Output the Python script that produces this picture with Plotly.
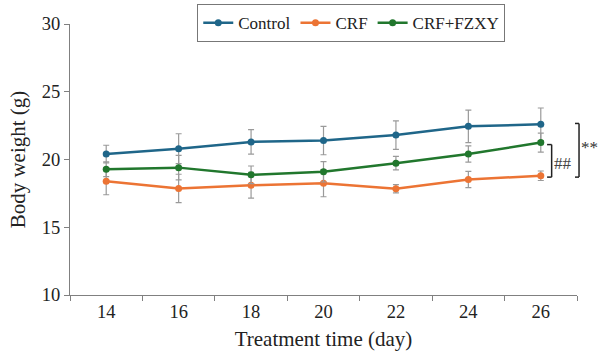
import plotly.graph_objects as go

days = ["14", "16", "18", "20", "22", "24", "26"]
control = [20.4, 20.8, 21.3, 21.4, 21.8, 22.45, 22.6]
control_err = [0.65, 1.1, 0.9, 1.05, 1.05, 1.2, 1.2]
crf = [18.4, 17.86, 18.1, 18.25, 17.84, 18.52, 18.8]
crf_err = [1.0, 1.05, 0.95, 1.0, 0.3, 0.6, 0.35]
fzxy = [19.28, 19.4, 18.87, 19.09, 19.73, 20.4, 21.25]
fzxy_err = [0.55, 0.9, 0.65, 0.75, 0.5, 0.6, 0.7]

names = ["Control", "CRF", "CRF+FZXY"]
colors = ["#1f6689", "#ec7434", "#21772d"]
series = [(control, control_err), (crf, crf_err), (fzxy, fzxy_err)]

FONT = "Liberation Serif"

fig = go.Figure()
for name, col, (vals, errs) in zip(names, colors, series):
    fig.add_trace(go.Scatter(
        x=days, y=vals, name=name, mode="lines+markers",
        line=dict(color=col, width=2.5),
        marker=dict(color=col, size=7),
        error_y=dict(type="data", array=errs, visible=True,
                     color="#9a9a9a", thickness=1.2, width=3),
        cliponaxis=False,
    ))

axis_common = dict(showline=True, linecolor="#808080", linewidth=1.2,
                   ticks="outside", tickcolor="#808080", ticklen=5,
                   showgrid=False, zeroline=False, automargin=False,
                   tickfont=dict(family=FONT, size=18.5, color="#222"))

fig.update_xaxes(type="category", range=[-0.5, 6.5], tickson="boundaries",
                 title=dict(text="Treatment time (day)", font=dict(family=FONT, size=21, color="#222"),
                            standoff=10),
                 **axis_common)
fig.update_yaxes(range=[10, 30], tickvals=[10, 15, 20, 25, 30],
                 title=dict(text="Body weight (g)", font=dict(family=FONT, size=21, color="#222"),
                            standoff=10),
                 **axis_common)

shapes = []
def bracket(xv, xarm, y0, y1):
    return [
        dict(type="line", xref="paper", yref="y", x0=xv, x1=xv, y0=y0, y1=y1,
             line=dict(color="#222", width=1.5)),
        dict(type="line", xref="paper", yref="y", x0=xarm, x1=xv, y0=y0, y1=y0,
             line=dict(color="#222", width=1.5)),
        dict(type="line", xref="paper", yref="y", x0=xarm, x1=xv, y0=y1, y1=y1,
             line=dict(color="#222", width=1.5)),
    ]
shapes += bracket(0.950, 0.941, 18.7, 21.1)
shapes += bracket(1.004, 0.996, 18.7, 22.66)

fig.update_layout(
    width=602, height=352,
    margin=dict(l=70, r=25, t=24, b=57, autoexpand=False),
    paper_bgcolor="white", plot_bgcolor="white",
    font=dict(family=FONT, size=16, color="#222"),
    shapes=shapes,
    annotations=[
        dict(text="##", xref="paper", yref="y", x=0.951, xanchor="left", y=19.7, showarrow=False,
             font=dict(family=FONT, size=17, color="#444")),
        dict(text="**", xref="paper", yref="y", x=1.0445, xanchor="right", y=20.9, showarrow=False,
             font=dict(family=FONT, size=17, color="#333")),
    ],
    legend=dict(orientation="h", x=0.251, y=1.073, xanchor="left", yanchor="top",
                bordercolor="#777", borderwidth=1, bgcolor="white",
                font=dict(family=FONT, size=17, color="#222"),
                itemwidth=30, tracegroupgap=0),
    showlegend=True,
)

fig.write_html("out.html", config={"displayModeBar": False},
               post_script="document.body.style.margin='0';document.body.style.overflow='hidden';")
